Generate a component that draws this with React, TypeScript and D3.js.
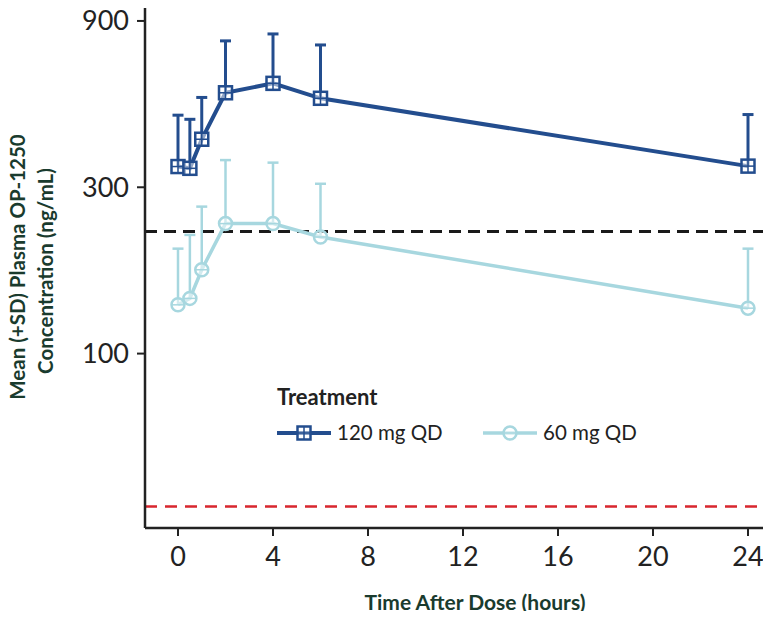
import React from "react";
import { scaleLinear, scaleLog, line } from "d3";

// data (ng/mL)
const hours = [0, 0.5, 1, 2, 4, 6, 24];
const mean120 = [344, 340, 412, 560, 596, 540, 345];
const sd120Top = [483, 470, 543, 789, 826, 768, 485];
const mean60 = [138, 144, 174, 236, 236, 216, 135];
const sd60Top = [200, 219, 264, 359, 353, 307, 200];
const xTicks = [0, 4, 8, 12, 16, 20, 24];
const yTicks = [100, 300, 900];
const blackRef = 224;
const redRef = 36.4;

const W = 771;
const H = 619;
const left = 145;
const right = 768;
const top = 5;
const bottom = 528;

const DARK = "#234d8e";
const LIGHT = "#a7d7df";
const TITLE = "#1a3b2e";
const FONT = "Lato, 'Open Sans', sans-serif";

export default function App() {
  const x = scaleLinear().domain([0, 24]).range([178, 748]);
  const y = scaleLog().domain([31.6, 1000]).range([bottom, top]);

  const mk = (vals: number[]) =>
    line<number>()
      .x((d, i) => x(hours[i]))
      .y((d) => y(d))(vals) || "";

  const Square = ({ cx, cy }: { cx: number; cy: number }) => (
    <g stroke={DARK} strokeWidth={2.5} fill="none">
      <rect x={cx - 6.5} y={cy - 6.5} width={13} height={13} fill="white" fillOpacity={0.5} />
      <line x1={cx - 6.5} x2={cx + 6.5} y1={cy} y2={cy} strokeWidth={1.5} />
      <line x1={cx} x2={cx} y1={cy - 6.5} y2={cy + 6.5} strokeWidth={1.5} />
    </g>
  );
  const Circle = ({ cx, cy }: { cx: number; cy: number }) => (
    <g stroke={LIGHT} strokeWidth={2.5} fill="none">
      <circle cx={cx} cy={cy} r={6.5} fill="white" fillOpacity={0.5} />
      <line x1={cx - 6.5} x2={cx + 6.5} y1={cy} y2={cy} strokeWidth={1.5} />
    </g>
  );

  return (
    <svg width={W} height={H} style={{ display: "block", margin: "-8px", background: "white" }} fontFamily={FONT}>
      {/* reference lines */}
      <line x1={left} x2={right + 3} y1={y(blackRef)} y2={y(blackRef)} stroke="#1a1a1a" strokeWidth={3} strokeDasharray="12 7" />
      <line x1={left} x2={right + 3} y1={y(redRef)} y2={y(redRef)} stroke="#d8262e" strokeWidth={2.5} strokeDasharray="12 8" />

      {/* axes */}
      <line x1={left} x2={left} y1={top} y2={bottom} stroke="#222" strokeWidth={2.5} />
      <line x1={left} x2={right} y1={bottom} y2={bottom} stroke="#222" strokeWidth={2.5} />
      {yTicks.map((t) => (
        <g key={t}>
          <line x1={left - 8} x2={left} y1={y(t)} y2={y(t)} stroke="#222" strokeWidth={2} />
          <text x={left - 16} y={y(t)} dy="0.35em" textAnchor="end" fontSize={27} fill="#222">
            {t}
          </text>
        </g>
      ))}
      {xTicks.map((t) => (
        <g key={t}>
          <line x1={x(t)} x2={x(t)} y1={bottom} y2={bottom + 8} stroke="#222" strokeWidth={2} />
          <text x={x(t)} y={557} dy="0.35em" textAnchor="middle" fontSize={27} fill="#222">
            {t}
          </text>
        </g>
      ))}

      {/* axis titles */}
      <text x={475} y={603} dy="0.35em" textAnchor="middle" fontSize={21} fontWeight="bold" fill={TITLE}>
        Time After Dose (hours)
      </text>
      <g transform="translate(18,267) rotate(-90)">
        <text textAnchor="middle" dy="0.35em" fontSize={20.5} fontWeight="bold" fill={TITLE}>
          Mean (+SD) Plasma OP-1250
        </text>
      </g>
      <g transform="translate(46,271) rotate(-90)">
        <text textAnchor="middle" dy="0.35em" fontSize={20.5} fontWeight="bold" fill={TITLE}>
          Concentration (ng/mL)
        </text>
      </g>

      {/* 60 mg series */}
      {hours.map((h, i) => (
        <g key={"e60" + i} stroke={LIGHT} strokeWidth={2.5}>
          <line x1={x(h)} x2={x(h)} y1={y(mean60[i])} y2={y(sd60Top[i])} />
          <line x1={x(h) - 5.5} x2={x(h) + 5.5} y1={y(sd60Top[i])} y2={y(sd60Top[i])} />
        </g>
      ))}
      <path d={mk(mean60)} fill="none" stroke={LIGHT} strokeWidth={3.5} />
      {hours.map((h, i) => (
        <Circle key={"c" + i} cx={x(h)} cy={y(mean60[i])} />
      ))}

      {/* 120 mg series */}
      {hours.map((h, i) => (
        <g key={"e120" + i} stroke={DARK} strokeWidth={3}>
          <line x1={x(h)} x2={x(h)} y1={y(mean120[i])} y2={y(sd120Top[i])} />
          <line x1={x(h) - 5.5} x2={x(h) + 5.5} y1={y(sd120Top[i])} y2={y(sd120Top[i])} />
        </g>
      ))}
      <path d={mk(mean120)} fill="none" stroke={DARK} strokeWidth={4} />
      {hours.map((h, i) => (
        <Square key={"s" + i} cx={x(h)} cy={y(mean120[i])} />
      ))}

      {/* legend */}
      <text x={277} y={397} dy="0.35em" fontSize={22} fontWeight="bold" fill="#222">
        Treatment
      </text>
      <line x1={277} x2={331} y1={433} y2={433} stroke={DARK} strokeWidth={4} />
      <Square cx={304} cy={433} />
      <text x={337} y={433} dy="0.35em" fontSize={20.5} fill="#222">
        120 mg QD
      </text>
      <line x1={483} x2={537} y1={433} y2={433} stroke={LIGHT} strokeWidth={3.5} />
      <Circle cx={510} cy={433} />
      <text x={543} y={433} dy="0.35em" fontSize={20.5} fill="#222">
        60 mg QD
      </text>
    </svg>
  );
}
